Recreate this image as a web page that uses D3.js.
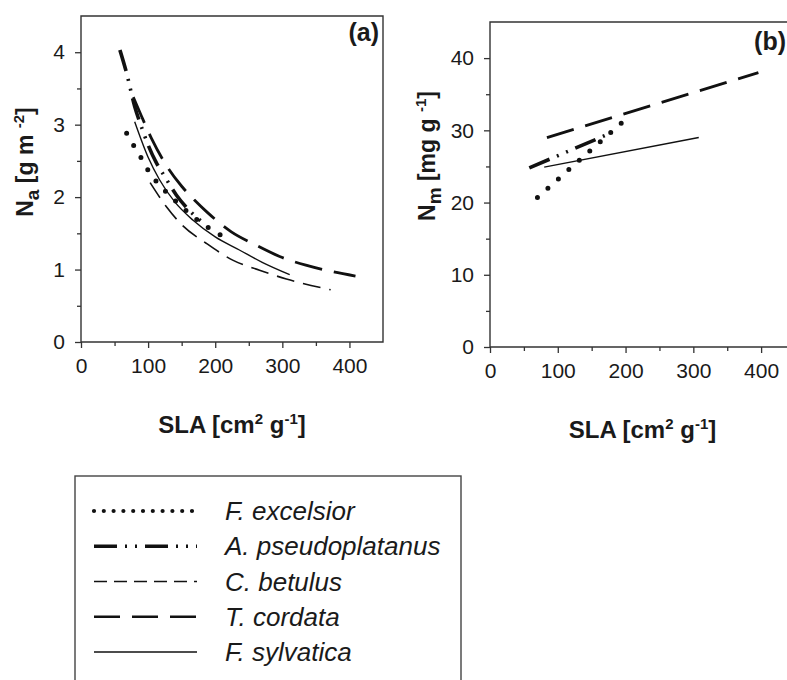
<!DOCTYPE html>
<html>
<head>
<meta charset="utf-8">
<script src="https://cdn.jsdelivr.net/npm/d3@7"></script>
<style>
body { margin: 0; background: #fff; }
svg text { font-family: "Liberation Sans", Arial, sans-serif; fill: #1a1a1a; }
.tick line { stroke: #333; stroke-width: 1.3; }
</style>
</head>
<body>
<div id="chart"></div>
<script>
//===========================================================
// Data
//===========================================================
var species = ["F. excelsior", "A. pseudoplatanus", "C. betulus", "T. cordata", "F. sylvatica"];
var slaTicks = [0, 100, 200, 300, 400];
var slaMinor = [50, 150, 250, 350];
var naTicks = [0, 1, 2, 3, 4];
var naMinor = [0.5, 1.5, 2.5, 3.5];
var nmTicks = [0, 10, 20, 30, 40];
var nmMinor = [5, 15, 25, 35];

// (a) area based N vs SLA
var exSLA = [68, 78, 88, 98, 111, 127, 144, 161, 177, 195, 213];
var exNa  = [2.88, 2.72, 2.57, 2.40, 2.23, 2.07, 1.92, 1.78, 1.66, 1.55, 1.45];
var apSLA = [58, 68, 80, 90, 100, 112, 125, 142, 160, 187];
var apNa  = [4.03, 3.71, 3.25, 2.97, 2.72, 2.48, 2.28, 2.03, 1.83, 1.61];
var cbSLA = [103, 127, 150, 187, 226, 266, 306, 372];
var cbNa  = [2.2, 1.87, 1.62, 1.36, 1.13, 0.99, 0.87, 0.72];
var tcSLA = [78, 90, 105, 127, 150, 169, 187, 224, 260, 296, 335, 370, 409];
var tcNa  = [3.38, 3.12, 2.81, 2.44, 2.15, 1.96, 1.80, 1.52, 1.34, 1.18, 1.06, 0.98, 0.91];
var fsSLA = [80, 100, 117, 140, 167, 200, 236, 270, 311];
var fsNa  = [3.04, 2.55, 2.24, 1.93, 1.68, 1.45, 1.27, 1.1, 0.93];

// (b) mass based N vs SLA
var exSLAb = [70, 208];
var exNm   = [20.7, 32.2];
var apSLAb = [58, 175];
var apNm   = [24.8, 29.5];
var tcSLAb = [84, 396];
var tcNm   = [29.0, 38.0];
var fsSLAb = [80, 308];
var fsNm   = [24.9, 29.0];

var panelA = [d3.zip(exSLA, exNa), d3.zip(apSLA, apNa), d3.zip(cbSLA, cbNa), d3.zip(tcSLA, tcNa), d3.zip(fsSLA, fsNa)];
var panelB = [d3.zip(exSLAb, exNm), d3.zip(apSLAb, apNm), null, d3.zip(tcSLAb, tcNm), d3.zip(fsSLAb, fsNm)];

// line styles, one per species
var styles = [
	{ w: 5, dash: "0,14", cap: "round", lw: 4.2, ldash: "0,9.8" },
	{ w: 3.6, dash: "22,8,2,8,2,8", cap: "butt", lw: 3.6, ldash: "23,8,2,8,2,8" },
	{ w: 1.6, dash: "18,9", cap: "butt", lw: 1.5, ldash: "13,7" },
	{ w: 2.8, dash: "28,12", cap: "butt", lw: 2.6, ldash: "26,12" },
	{ w: 1.4, dash: null, cap: "butt", lw: 1.5, ldash: null }
];

var W = 787, H = 680;
var svg = d3.select("#chart").append("svg")
	.attr("width", W)
	.attr("height", H);

//===========================================================
// Panel helper
//===========================================================
function drawPanel(opt) {
	var x = d3.scaleLinear().domain([0, 450]).range([opt.left, opt.right]);
	var y = d3.scaleLinear().domain([0, opt.ymax]).range([opt.bottom, opt.top]);
	var g = svg.append("g");

	// minor ticks
	g.append("g")
		.attr("transform", "translate(0," + opt.bottom + ")")
		.call(d3.axisBottom(x).tickValues(slaMinor).tickSize(4).tickFormat(""))
		.select(".domain").remove();
	g.append("g")
		.attr("transform", "translate(" + opt.left + ",0)")
		.call(d3.axisLeft(y).tickValues(opt.minor).tickSize(4).tickFormat(""))
		.select(".domain").remove();

	// major ticks
	var xa = g.append("g")
		.attr("transform", "translate(0," + opt.bottom + ")")
		.call(d3.axisBottom(x).tickValues(slaTicks).tickSize(6).tickPadding(10).tickFormat(d3.format("d")));
	xa.select(".domain").remove();
	xa.selectAll("text").style("font-size", "21px");

	var ya = g.append("g")
		.attr("transform", "translate(" + opt.left + ",0)")
		.call(d3.axisLeft(y).tickValues(opt.ticks).tickSize(6).tickPadding(10).tickFormat(d3.format("d")));
	ya.select(".domain").remove();
	ya.selectAll("text").style("font-size", "21px");

	// frame
	g.append("path")
		.attr("d", "M" + opt.left + "," + opt.top + "H" + opt.right + "V" + opt.bottom + "H" + opt.left + "Z")
		.attr("fill", "none")
		.attr("stroke", "#333")
		.attr("stroke-width", 1.4);

	var line = d3.line()
		.x(function (d) { return x(d[0]); })
		.y(function (d) { return y(d[1]); })
		.curve(opt.curve);

	opt.data.forEach(function (pts, i) {
		if (!pts) return;
		var s = styles[i];
		g.append("path")
			.datum(pts)
			.attr("d", line)
			.attr("fill", "none")
			.attr("stroke", "#111")
			.attr("stroke-width", s.w)
			.attr("stroke-linecap", s.cap)
			.attr("stroke-dasharray", s.dash);
	});

	// panel letter
	g.append("text")
		.attr("x", opt.letterX)
		.attr("y", opt.top + opt.letterDy)
		.attr("text-anchor", "end")
		.style("font-size", "25px")
		.style("font-weight", "bold")
		.text(opt.letter);

	// x title
	var xt = g.append("text")
		.attr("x", (opt.left + opt.right) / 2)
		.attr("y", opt.bottom + 91)
		.attr("text-anchor", "middle")
		.style("font-size", "24px")
		.style("font-weight", "bold");
	xt.append("tspan").text("SLA [cm");
	xt.append("tspan").attr("dy", -9).style("font-size", "15px").text("2");
	xt.append("tspan").attr("dy", 9).text(" g");
	xt.append("tspan").attr("dy", -9).style("font-size", "15px").text("-1");
	xt.append("tspan").attr("dy", 9).text("]");

	// y title
	var yt = g.append("text")
		.attr("transform", "translate(" + opt.ytx + "," + opt.yty + ") rotate(-90)")
		.attr("text-anchor", "middle")
		.style("font-size", "23px")
		.style("font-weight", "bold");
	yt.append("tspan").text("N");
	yt.append("tspan").attr("dy", 6).style("font-size", "19px").text(opt.sub);
	yt.append("tspan").attr("dy", -6).text(" [" + opt.unit + " ");
	yt.append("tspan").attr("dy", -9).style("font-size", "15px").text(opt.sup);
	yt.append("tspan").attr("dy", 9).text("]");
}

drawPanel({
	left: 81, right: 383, top: 16, bottom: 342, ymax: 4.5,
	ticks: naTicks, minor: naMinor, data: panelA, curve: d3.curveMonotoneX,
	letter: "(a)", letterX: 379, letterDy: 25, ytx: 33, yty: 162,
	sub: "a", unit: "g m", sup: "-2"
});

drawPanel({
	left: 490, right: 795, top: 22, bottom: 347, ymax: 45,
	ticks: nmTicks, minor: nmMinor, data: panelB, curve: d3.curveLinear,
	letter: "(b)", letterX: 786, letterDy: 28, ytx: 435, yty: 156,
	sub: "m", unit: "mg g", sup: "-1"
});

//===========================================================
// Legend
//===========================================================
var legend = svg.append("g");
legend.append("rect")
	.attr("x", 75).attr("y", 476)
	.attr("width", 386).attr("height", 230)
	.attr("fill", "none")
	.attr("stroke", "#444")
	.attr("stroke-width", 1.4);

var rowY = d3.scalePoint().domain(species).range([511, 652]);

species.forEach(function (name, i) {
	var s = styles[i];
	legend.append("line")
		.attr("x1", 94).attr("x2", 197)
		.attr("y1", rowY(name)).attr("y2", rowY(name))
		.attr("stroke", "#111")
		.attr("stroke-width", s.lw)
		.attr("stroke-linecap", s.cap)
		.attr("stroke-dasharray", s.ldash);
	legend.append("text")
		.attr("x", 225)
		.attr("y", rowY(name) + 9)
		.style("font-size", "26px")
		.style("font-style", "italic")
		.text(name);
});
</script>
</body>
</html>
